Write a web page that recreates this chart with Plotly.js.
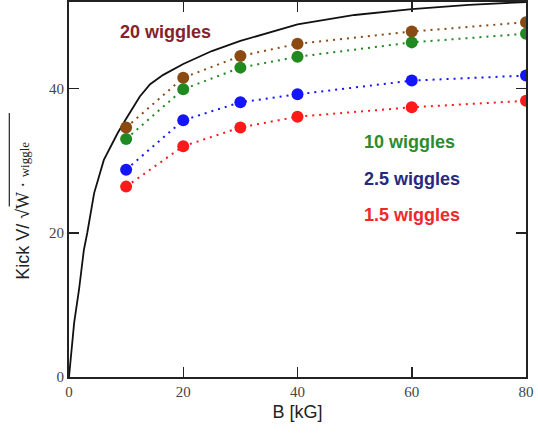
<!DOCTYPE html>
<html>
<head>
<meta charset="utf-8">
<script src="https://cdn.plot.ly/plotly-3.0.1.min.js"></script>
<style>html,body{margin:0;padding:0;background:#fff;}#chart{width:538px;height:438px;}</style>
</head>
<body>
<div id="chart"></div>
<script>
// Theoretical curve (black line)
const curveB = [0, 0.9, 1.75, 2.6, 3.2, 4.4, 6.1, 8.5, 10, 12.4, 14.2, 16.5, 20, 25, 30, 40, 50, 60, 70, 80];
const curveV = [0, 7.5, 12.1, 17.6, 20, 25.5, 30.1, 33.8, 35.8, 38.9, 40.6, 41.9, 43.4, 45.2, 46.6, 48.9, 50.2, 51.0, 51.6, 52.0];

// Measured points
const fieldB = [10, 20, 30, 40, 60, 80];
const wiggles20 = [34.6, 41.5, 44.5, 46.2, 47.9, 49.2];
const wiggles10 = [33.0, 39.9, 42.9, 44.4, 46.4, 47.6];
const wiggles2_5 = [28.75, 35.6, 38.1, 39.2, 41.1, 41.8];
const wiggles1_5 = [26.4, 32.0, 34.6, 36.1, 37.4, 38.3];

const seriesNames = ['20 wiggles', '10 wiggles', '2.5 wiggles', '1.5 wiggles'];
const seriesValues = [wiggles20, wiggles10, wiggles2_5, wiggles1_5];
const markerColors = ['#8b4a12', '#1f8a1f', '#1414ff', '#ff1a1a'];
const labelColors = ['#85222c', '#2e8b2e', '#28287e', '#ec2a2a'];

const xTicks = [0, 20, 40, 60, 80];
const yTicks = [0, 20, 40];

const traces = [{
  x: curveB, y: curveV, mode: 'lines', type: 'scatter',
  line: {color: '#111', width: 1.8}, hoverinfo: 'skip', showlegend: false
}];
seriesValues.forEach((vals, i) => {
  traces.push({
    x: fieldB, y: vals, mode: 'lines+markers', type: 'scatter', name: seriesNames[i],
    line: {color: markerColors[i], width: 2, dash: '2px,5px'},
    marker: {color: markerColors[i], size: 12}, showlegend: false
  });
});

const labelPos = [[8.6, 47.8], [51.3, 32.6], [51.3, 27.5], [51.3, 22.5]];
const annotations = seriesNames.map((n, i) => ({
  x: labelPos[i][0], y: labelPos[i][1], xref: 'x', yref: 'y', text: '<b>' + n + '</b>',
  showarrow: false, xanchor: 'left', yanchor: 'middle',
  font: {family: 'Liberation Sans, Arial, sans-serif', size: 18, color: labelColors[i]}
}));
// y-axis title as rotated annotation (allows the radical overline)
annotations.push({
  xref: 'paper', yref: 'paper', x: -0.1007, y: 0.443, textangle: -90,
  xanchor: 'center', yanchor: 'middle', showarrow: false,
  text: 'Kick V/ √<span style="font-family:Liberation Serif, Times New Roman, serif">W · <span style="font-size:13px">wiggle</span></span>',
  font: {family: 'Liberation Sans, Arial, sans-serif', size: 18, color: '#222'}
});

const axisCommon = {
  showgrid: false, zeroline: false, showline: true, linecolor: '#222', linewidth: 2,
  mirror: 'ticks', ticks: 'inside', ticklen: 10, tickwidth: 1.5, tickcolor: '#222',
  tickfont: {family: 'Liberation Serif, Times New Roman, serif', size: 15, color: '#444'}
};

const layout = {
  width: 538, height: 438,
  margin: {l: 69, r: 12, t: 2, b: 61},
  paper_bgcolor: '#fff', plot_bgcolor: '#fff',
  xaxis: Object.assign({}, axisCommon, {
    range: [0, 80], tickvals: xTicks, ticktext: xTicks.map(String),
    title: {text: 'B [kG]', font: {family: 'Liberation Sans, Arial, sans-serif', size: 18, color: '#222'}, standoff: 6}
  }),
  yaxis: Object.assign({}, axisCommon, {
    range: [0, 52], tickvals: yTicks, ticktext: yTicks.map(String)
  }),
  annotations: annotations,
  shapes: [{
    type: 'line', xref: 'paper', yref: 'paper',
    x0: -0.1306, x1: -0.1306, y0: 0.455, y1: 0.704,
    line: {color: '#222', width: 1.2}
  }]
};

Plotly.newPlot('chart', traces, layout, {displayModeBar: false, staticPlot: true});
</script>
</body>
</html>
